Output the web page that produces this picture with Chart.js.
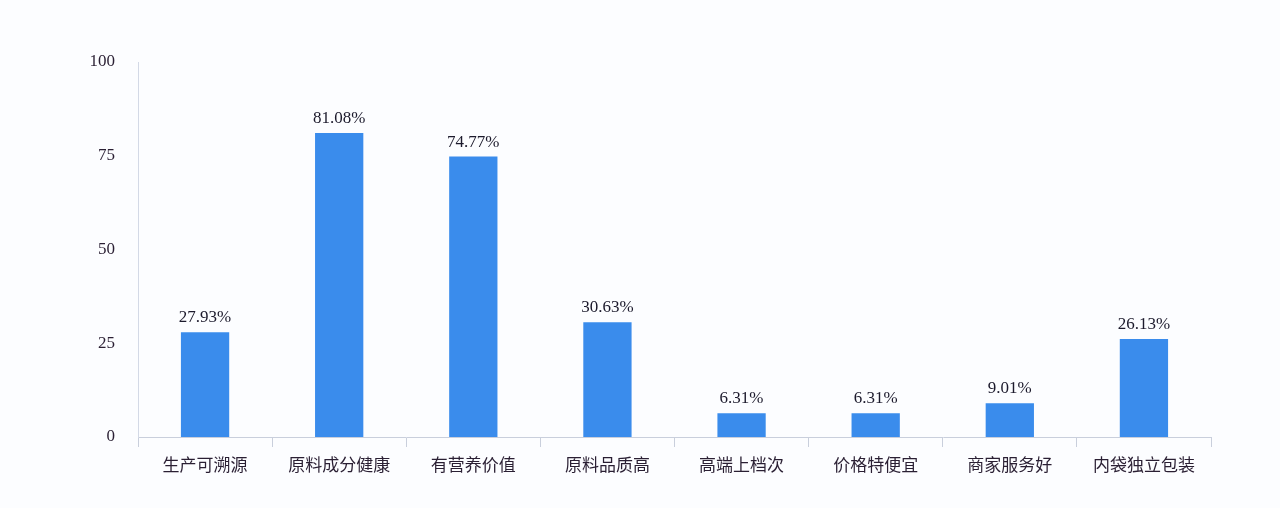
<!DOCTYPE html>
<html>
<head>
<meta charset="utf-8">
<script src="https://cdn.jsdelivr.net/npm/chart.js@4.4.1/dist/chart.umd.min.js"></script>
<style>
  html, body { margin: 0; padding: 0; background: #fcfdff; }
  #wrap { width: 1280px; height: 508px; }
</style>
</head>
<body>
<div id="wrap"><canvas id="chart"></canvas></div>
<script>
const categories = ["生产可溯源", "原料成分健康", "有营养价值", "原料品质高", "高端上档次", "价格特便宜", "商家服务好", "内袋独立包装"];
const shares = [27.93, 81.08, 74.77, 30.63, 6.31, 6.31, 9.01, 26.13];
const yTicks = [0, 25, 50, 75, 100];

// draws the "xx.xx%" text over each bar
const valueLabels = {
    id: "valueLabels",
    afterDatasetsDraw(chart) {
        const ctx = chart.ctx;
        const meta = chart.getDatasetMeta(0);
        ctx.save();
        ctx.font = "17px 'Liberation Serif'";
        ctx.fillStyle = "#1c1a2c";
        ctx.textAlign = "center";
        ctx.textBaseline = "bottom";
        meta.data.forEach((bar, i) => {
            ctx.fillText(shares[i].toFixed(2) + "%", bar.x, bar.y - 6);
        });
        ctx.restore();
    }
};

const ctx = document.getElementById("chart").getContext("2d");
new Chart(ctx, {
    type: "bar",
    data: {
        labels: categories,
        datasets: [{
            data: shares,
            backgroundColor: "#3a8cec",
            borderWidth: 0,
            categoryPercentage: 1,
            barPercentage: 0.36
        }]
    },
    options: {
        responsive: true,
        maintainAspectRatio: false,
        animation: false,
        layout: { padding: { top: 62, right: 69, bottom: 0, left: 0 } },
        plugins: {
            legend: { display: false },
            tooltip: { enabled: false }
        },
        scales: {
            x: {
                offset: true,
                afterFit(scale) { scale.height = 71; },
                grid: {
                    offset: true,
                    drawOnChartArea: false,
                    drawTicks: true,
                    tickLength: 10,
                    color: "#c9cfdc"
                },
                border: { display: true, color: "#c9cfdc", width: 1 },
                ticks: {
                    padding: 7,
                    color: "#2a1f33",
                    font: { family: "'Noto Sans CJK SC'", size: 17 }
                }
            },
            y: {
                min: 0,
                max: 100,
                afterFit(scale) { scale.width = 138; },
                afterBuildTicks(scale) { scale.ticks = yTicks.map(v => ({ value: v })); },
                grid: { display: false, drawTicks: false },
                border: { display: true, color: "#d3d9e6", width: 1 },
                ticks: {
                    padding: 23,
                    color: "#2a1f33",
                    font: { family: "'Liberation Serif'", size: 17 }
                }
            }
        }
    },
    plugins: [valueLabels]
});
</script>
</body>
</html>
